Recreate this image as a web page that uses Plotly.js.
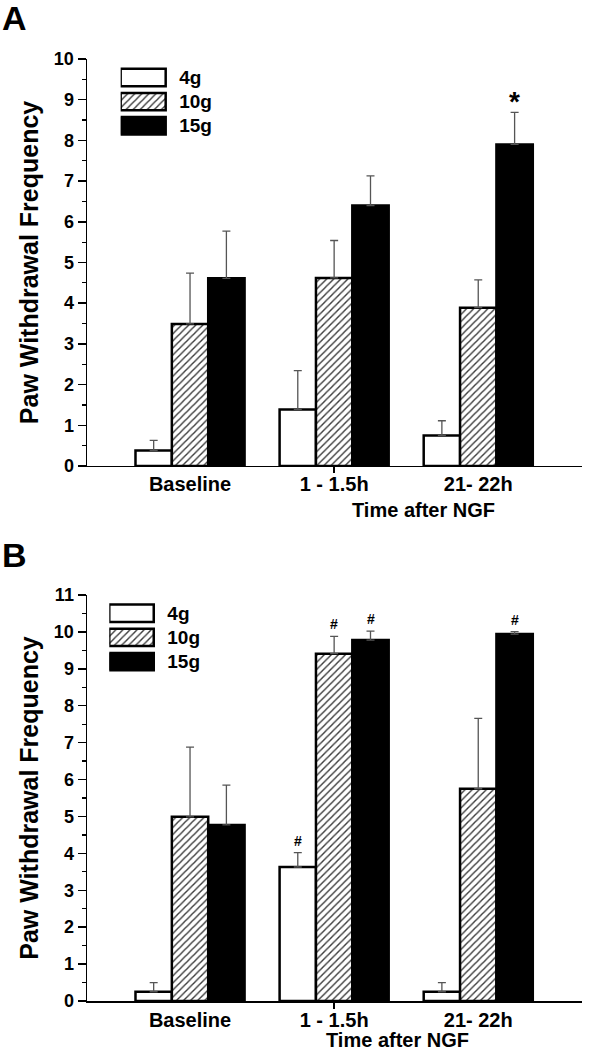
<!DOCTYPE html>
<html>
<head>
<meta charset="utf-8">
<script src="https://cdn.plot.ly/plotly-3.0.1.min.js"></script>
<style>html,body{margin:0;padding:0;background:#fff;}#chart{width:593px;height:1050px;}</style>
</head>
<body>
<div id="chart"></div>
<script>
// ---- data ----
const categories = ['Baseline', '1 - 1.5h', '21- 22h'];
const seriesNames = ['4g', '10g', '15g'];

// Panel A
const A_4g = [0.38, 1.39, 0.75];
const A_4g_err = [0.25, 0.95, 0.36];
const A_10g = [3.49, 4.62, 3.89];
const A_10g_err = [1.25, 0.92, 0.68];
const A_15g = [4.61, 6.40, 7.90];
const A_15g_err = [1.16, 0.73, 0.79];
const A_marks = [{series: 2, cat: 2, text: '*'}];

// Panel B
const B_4g = [0.25, 3.63, 0.25];
const B_4g_err = [0.25, 0.39, 0.25];
const B_10g = [4.99, 9.41, 5.75];
const B_10g_err = [1.89, 0.47, 1.91];
const B_15g = [4.77, 9.78, 9.94];
const B_15g_err = [1.08, 0.24, 0.07];
const B_marks = [
  {series: 0, cat: 1, text: '#'},
  {series: 1, cat: 1, text: '#'},
  {series: 2, cat: 1, text: '#'},
  {series: 2, cat: 2, text: '#'}
];

// ---- styling ----
const FONT = 'Liberation Sans, Arial, sans-serif';
const BARGAP = 0.243;
const styles = [
  {color: 'white', pattern: {shape: ''}},
  {color: 'white', pattern: {shape: '/', fgcolor: '#3a3a3a', bgcolor: 'white', size: 5, solidity: 0.28}},
  {color: 'black', pattern: {shape: ''}}
];
const xIdx = categories.map((c, i) => i);

function barTrace(vals, errs, si, xa, ya) {
  return {
    type: 'bar', x: xIdx, y: vals, name: seriesNames[si], xaxis: xa, yaxis: ya,
    marker: {color: styles[si].color, pattern: styles[si].pattern, line: {color: 'black', width: 2.5}},
    error_y: {type: 'data', symmetric: false, array: errs, arrayminus: errs.map(() => 0),
              color: '#555', thickness: 1.3, width: 4},
    showlegend: false, hoverinfo: 'skip'
  };
}

// legend swatches: one horizontal bar per series on a hidden axis pair
function legendTraces(xa, ya) {
  return seriesNames.map((nm, si) => ({
    type: 'bar', orientation: 'h', y: [si], x: [1],
    xaxis: xa, yaxis: ya, width: 0.72, offset: -0.36,
    text: ['  ' + nm], textposition: 'outside', constraintext: 'none', cliponaxis: false,
    textfont: {family: FONT, size: 19, color: 'black', weight: 'bold'},
    marker: {color: styles[si].color, pattern: styles[si].pattern, line: {color: 'black', width: 2.5}},
    showlegend: false, hoverinfo: 'skip'
  }));
}

const data = [
  barTrace(A_4g, A_4g_err, 0, 'x', 'y'),
  barTrace(A_10g, A_10g_err, 1, 'x', 'y'),
  barTrace(A_15g, A_15g_err, 2, 'x', 'y'),
  barTrace(B_4g, B_4g_err, 0, 'x2', 'y2'),
  barTrace(B_10g, B_10g_err, 1, 'x2', 'y2'),
  barTrace(B_15g, B_15g_err, 2, 'x2', 'y2')
].concat(legendTraces('x3', 'y3'), legendTraces('x4', 'y4'));

const bw = (1 - BARGAP) / 3;
function markAnn(m, vals, errs, xref, yref, size, shift) {
  return {
    xref: xref, yref: yref, x: m.cat + (m.series - 1) * bw,
    y: vals[m.series][m.cat] + errs[m.series][m.cat],
    text: m.text, showarrow: false, yanchor: 'bottom', yshift: shift,
    font: {family: FONT, size: size, color: 'black', weight: 'bold'}
  };
}
const A_vals = [A_4g, A_10g, A_15g], A_errs = [A_4g_err, A_10g_err, A_15g_err];
const B_vals = [B_4g, B_10g, B_15g], B_errs = [B_4g_err, B_10g_err, B_15g_err];

const xRange = [-0.715, 2.72];
function xAxis(anchor) {
  return {
    anchor: anchor, domain: [0, 1], range: xRange, fixedrange: true,
    tickmode: 'array', tickvals: xIdx, ticktext: categories, ticks: '',
    tickfont: {family: FONT, size: 20, color: 'black', weight: 'bold'},
    showline: true, linecolor: 'black', linewidth: 1.5, showgrid: false, zeroline: false,
    minor: {tickmode: 'array', tickvals: [1.0001], ticks: 'outside', ticklen: 6, tickwidth: 1.5, tickcolor: 'black'}
  };
}
function yAxis(anchor, domain, top) {
  return {
    anchor: anchor, domain: domain, range: [0, top], dtick: 1, fixedrange: true,
    ticks: 'outside', ticklen: 8, tickwidth: 1.5, tickcolor: 'black',
    tickfont: {family: FONT, size: 18, color: 'black', weight: 'bold'},
    showline: true, linecolor: 'black', linewidth: 1.5, showgrid: false, zeroline: false,
    minor: {dtick: 0.5, ticks: 'outside', ticklen: 4, tickwidth: 1.2, tickcolor: 'black'},
    title: {text: 'Paw Withdrawal Frequency', standoff: 8,
            font: {family: FONT, size: 25, color: 'black', weight: 'bold'}}
  };
}
const hidden = {visible: false, fixedrange: true};

const layout = {
  width: 593, height: 1050,
  margin: {l: 87, r: 11, t: 59, b: 49},
  paper_bgcolor: 'white', plot_bgcolor: 'rgba(0,0,0,0)',
  barmode: 'group', bargap: BARGAP, bargroupgap: 0,
  hovermode: false, showlegend: false,
  font: {family: FONT, color: 'black'},
  xaxis: xAxis('y'),
  yaxis: yAxis('x', [0.568, 1], 10),
  xaxis2: xAxis('y2'),
  yaxis2: yAxis('x2', [0, 0.431], 11),
  xaxis3: Object.assign({anchor: 'y3', domain: [0.068, 0.289], range: [0, 2.43]}, hidden),
  yaxis3: Object.assign({anchor: 'x3', domain: [0.9163, 0.9932], range: [2.5, -0.5]}, hidden),
  xaxis4: Object.assign({anchor: 'y4', domain: [0.045, 0.2687], range: [0, 2.49]}, hidden),
  yaxis4: Object.assign({anchor: 'x4', domain: [0.3474, 0.4246], range: [2.5, -0.5]}, hidden),
  annotations: [
    {xref: 'paper', yref: 'paper', x: -0.176, y: 1.043, xanchor: 'left', yanchor: 'middle',
     text: 'A', showarrow: false, font: {family: FONT, size: 34, color: 'black', weight: 'bold'}},
    {xref: 'paper', yref: 'paper', x: -0.176, y: 0.4735, xanchor: 'left', yanchor: 'middle',
     text: 'B', showarrow: false, font: {family: FONT, size: 34, color: 'black', weight: 'bold'}},
    {xref: 'paper', yref: 'paper', x: 0.679, y: 0.521, xanchor: 'center', yanchor: 'middle',
     text: 'Time after NGF', showarrow: false, font: {family: FONT, size: 20, color: 'black', weight: 'bold'}},
    {xref: 'paper', yref: 'paper', x: 0.628, y: -0.0414, xanchor: 'center', yanchor: 'middle',
     text: 'Time after NGF', showarrow: false, font: {family: FONT, size: 20, color: 'black', weight: 'bold'}}
  ].concat(
    A_marks.map(m => markAnn(m, A_vals, A_errs, 'x', 'y', 28, -7)),
    B_marks.map(m => markAnn(m, B_vals, B_errs, 'x2', 'y2', 14, 2))
  )
};

Plotly.newPlot('chart', data, layout, {staticPlot: true, displayModeBar: false});
</script>
</body>
</html>
